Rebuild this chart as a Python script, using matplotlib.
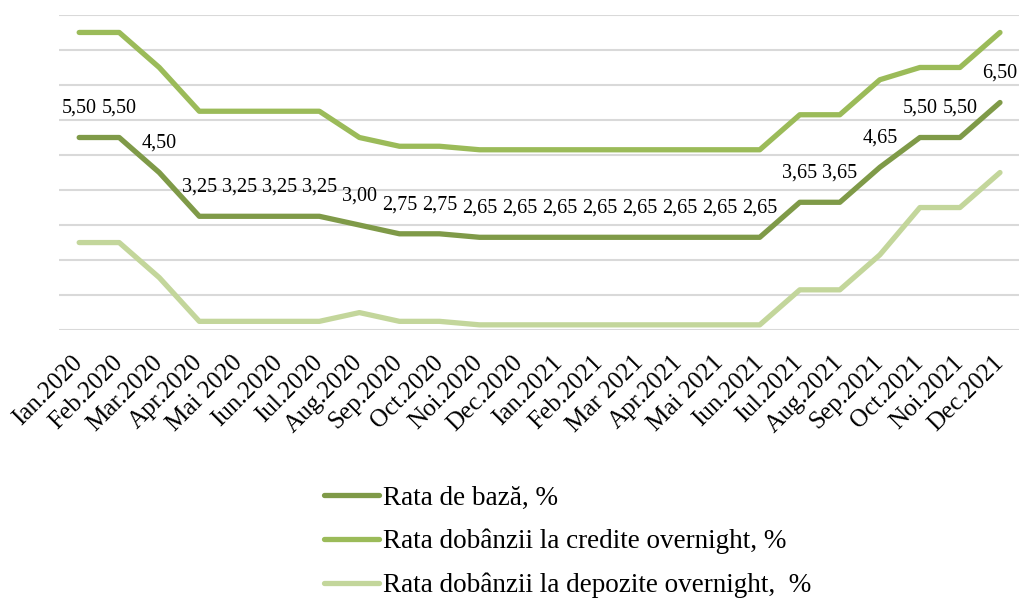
import matplotlib
matplotlib.use("Agg")
import matplotlib.pyplot as plt

# luni
luni = ["Ian.2020", "Feb.2020", "Mar.2020", "Apr.2020", "Mai 2020", "Iun.2020",
        "Iul.2020", "Aug.2020", "Sep.2020", "Oct.2020", "Noi.2020", "Dec.2020",
        "Ian.2021", "Feb.2021", "Mar 2021", "Apr.2021", "Mai 2021", "Iun.2021",
        "Iul.2021", "Aug.2021", "Sep.2021", "Oct.2021", "Noi.2021", "Dec.2021"]

rata_baza = [5.50, 5.50, 4.50, 3.25, 3.25, 3.25, 3.25, 3.00, 2.75, 2.75, 2.65, 2.65,
             2.65, 2.65, 2.65, 2.65, 2.65, 2.65, 3.65, 3.65, 4.65, 5.50, 5.50, 6.50]
rata_credite = [8.50, 8.50, 7.50, 6.25, 6.25, 6.25, 6.25, 5.50, 5.25, 5.25, 5.15, 5.15,
                5.15, 5.15, 5.15, 5.15, 5.15, 5.15, 6.15, 6.15, 7.15, 7.50, 7.50, 8.50]
rata_depozite = [2.50, 2.50, 1.50, 0.25, 0.25, 0.25, 0.25, 0.50, 0.25, 0.25, 0.15, 0.15,
                 0.15, 0.15, 0.15, 0.15, 0.15, 0.15, 1.15, 1.15, 2.15, 3.50, 3.50, 4.50]

plt.rcParams['font.family'] = ['Liberation Serif', 'DejaVu Serif']

fig = plt.figure(figsize=(10.2, 5.98), dpi=100)
ax = fig.add_axes([0.058, 0.448, 0.942, 0.527])

x = list(range(len(luni)))
l1, = ax.plot(x, rata_baza, color='#7F9A48', lw=3.8, solid_capstyle='round', zorder=3,
              label='Rata de bază, %')
l2, = ax.plot(x, rata_credite, color='#9BBB59', lw=3.8, solid_capstyle='round', zorder=3,
              label='Rata dobânzii la credite overnight, %')
l3, = ax.plot(x, rata_depozite, color='#C3D69B', lw=3.8, solid_capstyle='round', zorder=3,
              label='Rata dobânzii la depozite overnight,  %')

# etichete de date
for xi, v in zip(x, rata_baza):
    ax.annotate(f"{v:.2f}".replace('.', ','), (xi, v), xytext=(0, 21),
                textcoords='offset points', ha='center', va='center', fontsize=14.5)

ax.set_xlim(-0.5, len(luni) - 0.5)
ax.set_ylim(0, 9)
ax.set_yticks(range(0, 10))
ax.yaxis.grid(True, color='#D9D9D9', lw=1.5)
ax.set_axisbelow(True)
ax.tick_params(axis='y', left=False, labelleft=False)
ax.tick_params(axis='x', length=0, pad=21)
ax.set_xticks(x)
ax.set_xticklabels(luni, rotation=45, ha='right', va='center', rotation_mode='anchor',
                   fontsize=18)
for s in ax.spines.values():
    s.set_visible(False)

fig.legend(handles=[l1, l2, l3], loc='upper left', bbox_to_anchor=(0.318, 0.188),
           frameon=False, fontsize=19.5, handlelength=2.0, handletextpad=0.15,
           labelspacing=0.68, borderaxespad=0, borderpad=0)

fig.savefig('out.png', dpi=100)
